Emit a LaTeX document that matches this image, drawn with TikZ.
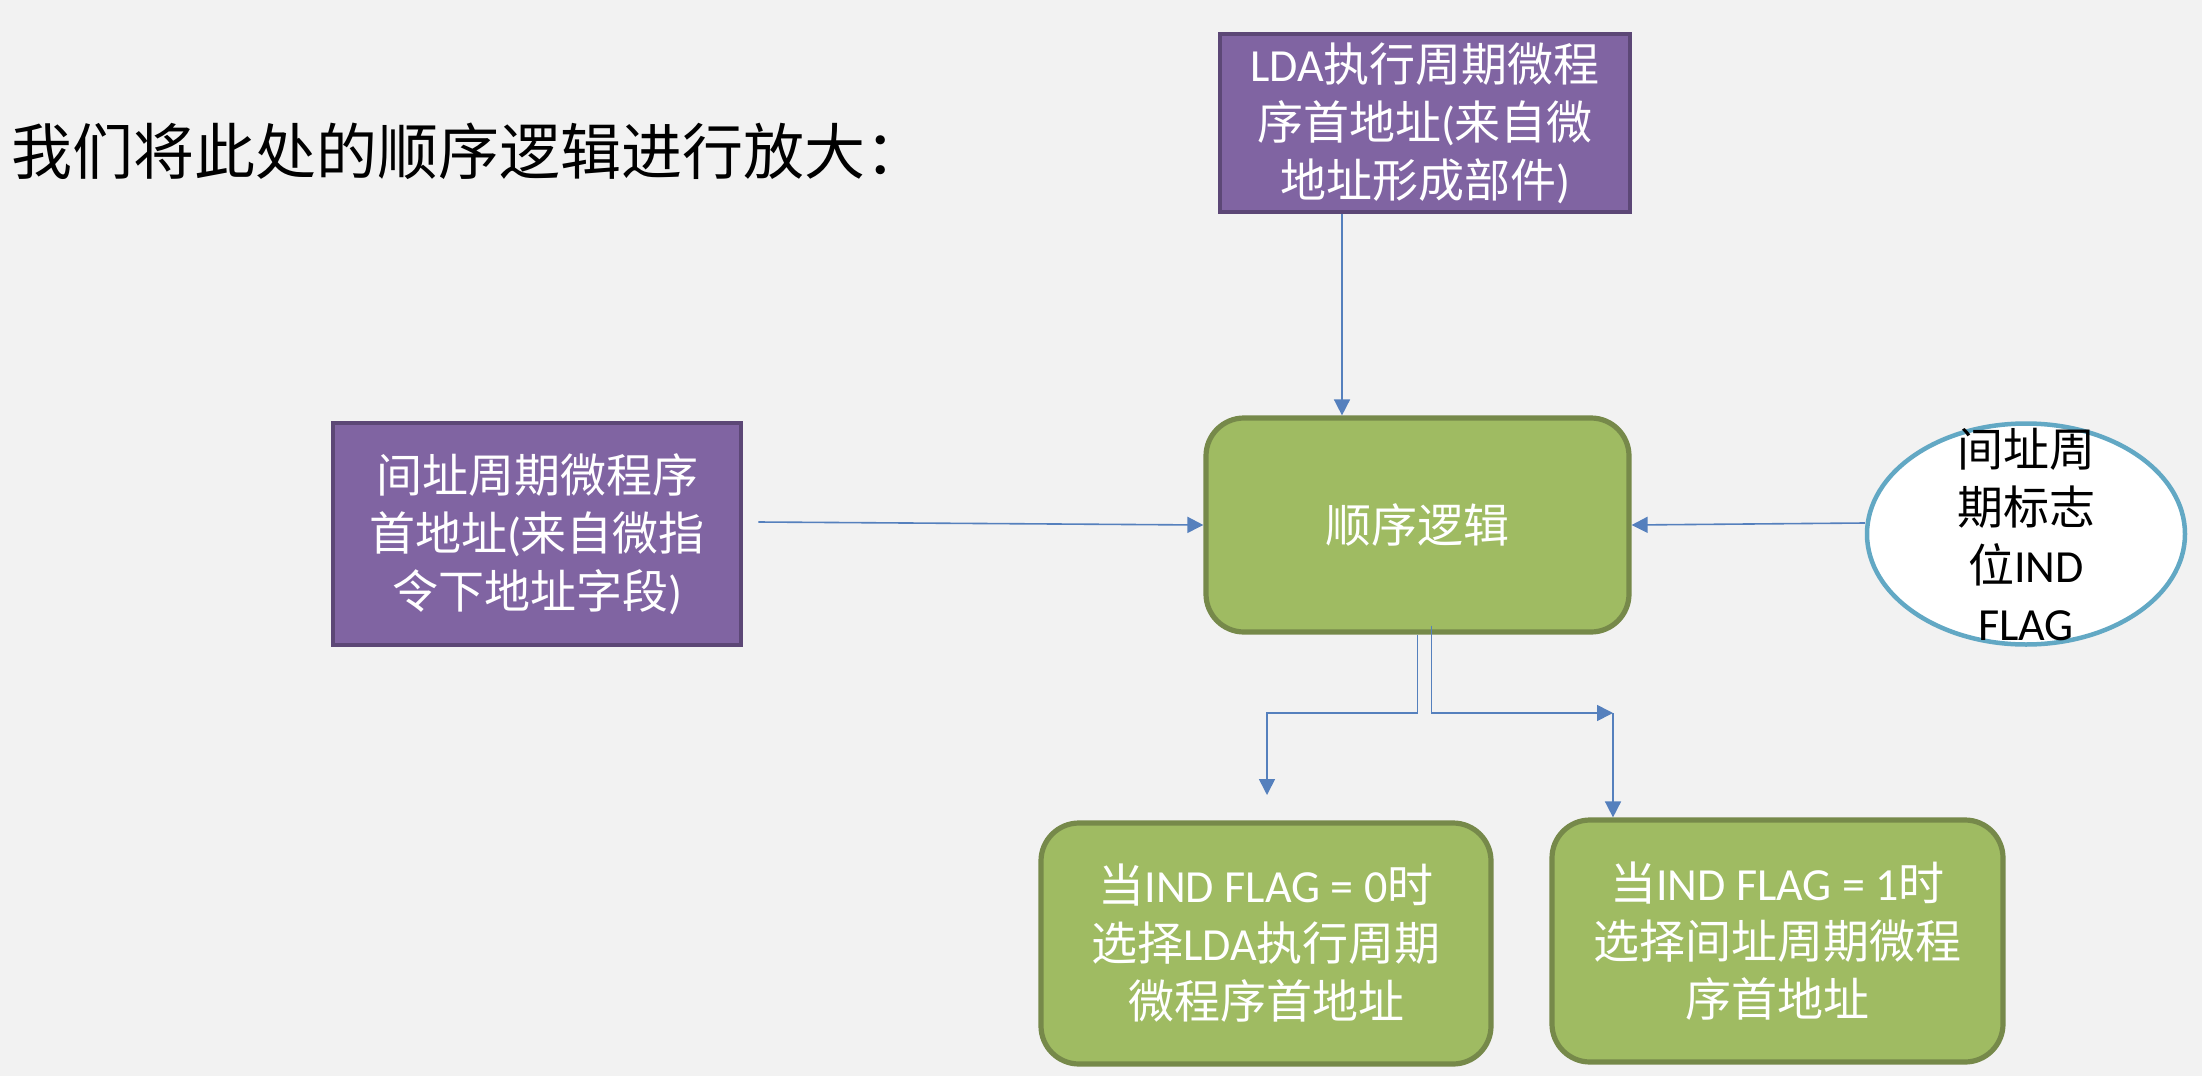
\documentclass[tikz,border=0pt]{standalone}
\usepackage{fontspec}
\setmainfont{Noto Sans CJK SC}
\newfontfamily\lat{Carlito}
\usetikzlibrary{shapes.geometric,arrows.meta}
\definecolor{bg}{HTML}{F2F2F2}
\definecolor{purfill}{HTML}{8064A2}
\definecolor{purline}{HTML}{5C4776}
\definecolor{grfill}{HTML}{9FBB62}
\definecolor{grline}{HTML}{76894A}
\definecolor{arrc}{HTML}{5580BD}
\definecolor{ellc}{HTML}{62A8C4}
\tikzset{
  boxtext/.style={font=\fontsize{23}{29}\selectfont, align=center, inner sep=0pt},
  purbox/.style={boxtext, draw=purline, fill=purfill, line width=2.25pt, text=white},
  grbox/.style={boxtext, draw=grline, fill=grfill, line width=2.6pt, rounded corners=19pt, text=white},
  arr/.style={draw=arrc, line width=0.8pt, -{Triangle[length=8pt,width=8pt]}},
}
\begin{document}
\begin{tikzpicture}[x=0.5pt,y=-0.5pt]
\fill[bg] (0,0) rectangle (2202,1076);
\useasboundingbox (0,0) rectangle (2202,1076);

\node[anchor=west, inner sep=0pt, font=\fontsize{30.5}{36}\selectfont] (title) at (11,151) {我们将此处的顺序逻辑进行放大：};

\node[purbox, minimum width=205pt, minimum height=89pt] (top) at (1425,123)
  {{\lat LDA}执行周期微程\\序首地址{\lat (}来自微\\地址形成部件{\lat )}};

\node[purbox, minimum width=204pt, minimum height=111pt] (left) at (537,534)
  {间址周期微程序\\首地址{\lat (}来自微指\\令下地址字段{\lat )}};

\node[grbox, minimum width=211.5pt, minimum height=107pt] (main) at (1417.5,525) {顺序逻辑};

\node[ellipse, draw=ellc, fill=white, line width=2.25pt, minimum width=159pt, minimum height=110.5pt, inner sep=0pt] (flag) at (2026,534) {};
\node[boxtext, text=black] (flagtext) at (2026,534) {间址周\\期标志\\位{\lat IND}\\{\lat FLAG}};

\node[grbox, minimum width=225pt, minimum height=120.5pt] (bl) at (1266,943.5)
  {当{\lat IND FLAG = 0}时\\选择{\lat LDA}执行周期\\微程序首地址};
\node[grbox, minimum width=225.5pt, minimum height=121pt] (br) at (1777.5,941)
  {当{\lat IND FLAG = 1}时\\选择间址周期微程\\序首地址};

\coordinate (tx) at (1342,0);
\draw[arr] (top.south -| tx) -- (main.north -| tx);
\draw[arr] ([xshift=7.5pt,yshift=6pt]left.east) -- (main.west);
\draw[arr] ([yshift=5.5pt]flag.west) -- (main.east);

\coordinate (jl) at (1267,713);
\coordinate (el) at (1267,795);
\draw[arr] (main.south) |- (jl) -- (el);
\coordinate (jr) at (1613,713);
\draw[arr] ([xshift=7pt,yshift=4.5pt]main.south) |- (jr);
\draw[arr] (jr) -- (jr |- br.north);
\end{tikzpicture}
\end{document}
